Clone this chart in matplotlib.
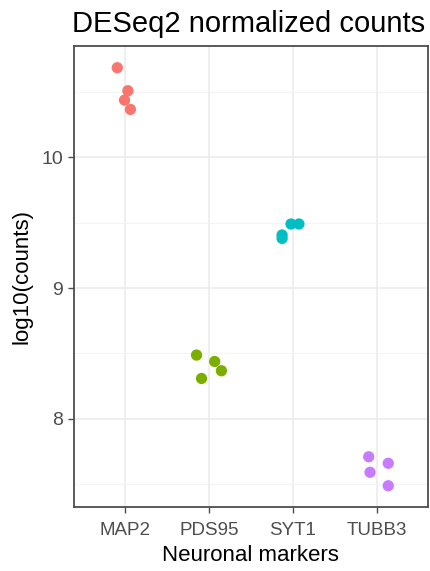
import matplotlib.pyplot as plt
import numpy as np

plt.rcParams['font.family'] = ['Liberation Sans', 'DejaVu Sans']

markers = ["MAP2", "PDS95", "SYT1", "TUBB3"]
colors = ["#F8766D", "#7CAE00", "#00BFC4", "#C77CFF"]

# log10 normalized counts per replicate, with the jittered x positions
log_counts = {
    "MAP2": [10.686, 10.51, 10.438, 10.367],
    "PDS95": [8.487, 8.438, 8.367, 8.308],
    "SYT1": [9.49, 9.49, 9.406, 9.38],
    "TUBB3": [7.709, 7.659, 7.59, 7.487],
}
jitter_x = {
    "MAP2": [0.914, 1.04, 1.0, 1.07],
    "PDS95": [1.855, 2.07, 2.15, 1.914],
    "SYT1": [2.976, 3.07, 2.87, 2.87],
    "TUBB3": [3.898, 4.13, 3.914, 4.13],
}

fig = plt.figure(figsize=(4.3, 5.71), dpi=100)
ax = fig.add_axes([0.172, 0.112, 0.823, 0.8074])

for name, col in zip(markers, colors):
    ax.scatter(jitter_x[name], log_counts[name], s=66, color=col,
               edgecolors='none', zorder=3)

ax.set_xlim(0.4, 4.6)
ax.set_ylim(7.324, 10.852)
ax.set_xticks(np.arange(1, len(markers) + 1))
ax.set_xticklabels(markers)
ax.set_yticks([8, 9, 10])
ax.set_yticks([7.5, 8.5, 9.5, 10.5], minor=True)

# theme_bw look
ax.grid(True, which='major', color='#EBEBEB', linewidth=1.1)
ax.grid(True, which='minor', axis='y', color='#F2F2F2', linewidth=0.6)
ax.set_axisbelow(True)
for sp in ax.spines.values():
    sp.set_color('#4D4D4D')
    sp.set_linewidth(1.3)
ax.tick_params(which='major', length=4, width=1, color='#4D4D4D',
               labelcolor='#4D4D4D', labelsize=13.5)
ax.tick_params(axis='x', which='major', pad=7)
ax.tick_params(axis='y', which='major', pad=4, labelsize=14)
ax.tick_params(which='minor', length=0)

ax.set_title("DESeq2 normalized counts", fontsize=21, loc='left', pad=10,
             x=-0.005)
ax.set_xlabel("Neuronal markers", fontsize=16, labelpad=4)
ax.set_ylabel("log10(counts)", fontsize=16, labelpad=6)

fig.savefig("out.png", dpi=100)
